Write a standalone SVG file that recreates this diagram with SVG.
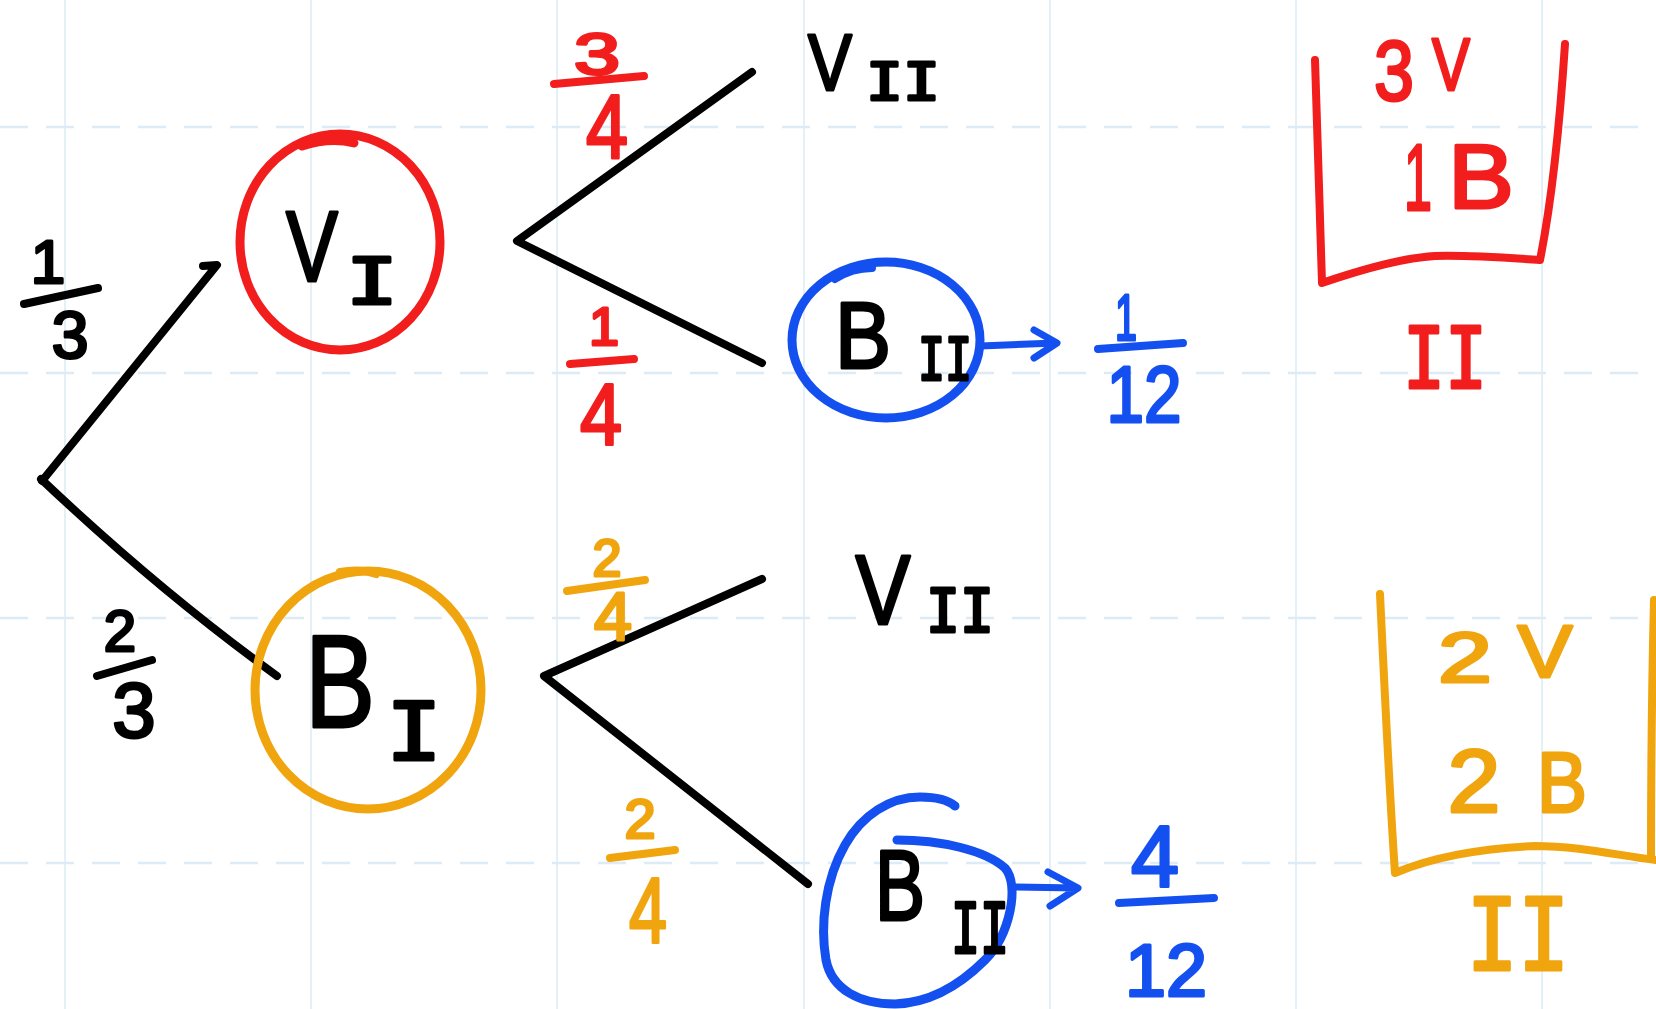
<svg xmlns="http://www.w3.org/2000/svg" width="1656" height="1009" viewBox="0 0 1656 1009">
<style>
.bg{fill:#ffffff}
.gv{stroke:#e3f0f8;stroke-width:2}
.gh{stroke:#dcebf5;stroke-width:2.5;stroke-dasharray:28 18}
.ink{fill:none;stroke-linecap:round;stroke-linejoin:round}
.k{stroke:#000000}
.r{stroke:#f21d1d}
.b{stroke:#1450f0}
.o{stroke:#f0a50f}
.t{font-family:"Liberation Sans",Arial,sans-serif;text-anchor:middle;stroke-linejoin:round;stroke-linecap:round}
.n{font-family:"DejaVu Sans Mono","Liberation Mono",monospace;text-anchor:middle;stroke-linejoin:round}
.tk{fill:#000;stroke:#000;stroke-width:3}
.tr{fill:#f21d1d;stroke:#f21d1d;stroke-width:3}
.tb{fill:#1450f0;stroke:#1450f0;stroke-width:3}
.to{fill:#f0a50f;stroke:#f0a50f;stroke-width:3}
</style>
<rect class="bg" x="0" y="0" width="1656" height="1009"/>
<g id="grid">
<line class="gv" x1="65" y1="0" x2="65" y2="1009"/>
<line class="gv" x1="311" y1="0" x2="311" y2="1009"/>
<line class="gv" x1="557" y1="0" x2="557" y2="1009"/>
<line class="gv" x1="804" y1="0" x2="804" y2="1009"/>
<line class="gv" x1="1050" y1="0" x2="1050" y2="1009"/>
<line class="gv" x1="1296" y1="0" x2="1296" y2="1009"/>
<line class="gv" x1="1542" y1="0" x2="1542" y2="1009"/>
<line class="gh" x1="0" y1="127" x2="1656" y2="127"/>
<line class="gh" x1="0" y1="373" x2="1656" y2="373"/>
<line class="gh" x1="0" y1="618" x2="1656" y2="618"/>
<line class="gh" x1="0" y1="863" x2="1656" y2="863"/>
</g>
<g id="connectors">
<path class="ink k" stroke-width="8" d="M42,481 L217,265 L203,266"/>
<path class="ink k" stroke-width="8" d="M41,479 Q150,582 258,662 L277,676"/>
<path class="ink k" stroke-width="8" d="M752,72 L517,241 L762,363"/>
<path class="ink k" stroke-width="8" d="M762,579 L544,676 L808,884"/>
<path class="ink b" stroke-width="7" d="M980,346 L1056,343 M1034,330 L1057,343 L1034,358"/>
<path class="ink b" stroke-width="7" d="M1013,887 L1077,888 M1048,872 L1078,888 L1050,906"/>
</g>
<g id="label-1-3">
<text class="t tk" x="48" y="283" font-size="62">1</text>
<line class="ink k" stroke-width="8" x1="24" y1="304" x2="98" y2="288"/>
<text class="t tk" x="70" y="358" font-size="66">3</text>
</g>
<g id="label-2-3">
<text class="t tk" x="120" y="651" font-size="58">2</text>
<line class="ink k" stroke-width="8" x1="97" y1="676" x2="152" y2="660"/>
<text class="t tk" x="134" y="737" font-size="78">3</text>
</g>
<g id="node-VI">
<ellipse class="ink r" stroke-width="9" cx="340" cy="242" rx="100" ry="108"/>
<path class="ink r" stroke-width="9" d="M302,146 Q330,137 354,143"/>
<text class="t tk" x="312" y="281" font-size="100" textLength="52" lengthAdjust="spacingAndGlyphs">V</text>
<text class="n tk" x="372" y="304" font-size="64" textLength="52" lengthAdjust="spacingAndGlyphs">I</text>
</g>
<g id="label-3-4">
<text class="t tr" x="597" y="74" font-size="58" textLength="46" lengthAdjust="spacingAndGlyphs">3</text>
<line class="ink r" stroke-width="8" x1="554" y1="84" x2="644" y2="76"/>
<text class="t tr" x="607" y="158" font-size="90" textLength="42" lengthAdjust="spacingAndGlyphs">4</text>
</g>
<g id="label-1-4">
<text class="t tr" x="604" y="345" font-size="54">1</text>
<line class="ink r" stroke-width="8" x1="570" y1="364" x2="634" y2="359"/>
<text class="t tr" x="601" y="445" font-size="88" textLength="42" lengthAdjust="spacingAndGlyphs">4</text>
</g>
<g id="node-VII-top">
<text class="t tk" x="830" y="90" font-size="80" textLength="44" lengthAdjust="spacingAndGlyphs">V</text>
<text class="n tk" x="903" y="100" font-size="52" textLength="74" lengthAdjust="spacingAndGlyphs">II</text>
</g>
<g id="node-BII-top">
<ellipse class="ink b" stroke-width="9" cx="886" cy="340" rx="94" ry="78"/>
<path class="ink b" stroke-width="8" d="M835,279 Q852,268 872,268"/>
<text class="t tk" x="863" y="368" font-size="94" textLength="56" lengthAdjust="spacingAndGlyphs">B</text>
<text class="n tk" x="945" y="380" font-size="58" textLength="54" lengthAdjust="spacingAndGlyphs">II</text>
</g>
<g id="label-1-12">
<text class="t tb" x="1126" y="340" font-size="64" textLength="22" lengthAdjust="spacingAndGlyphs">1</text>
<line class="ink b" stroke-width="8" x1="1098" y1="349" x2="1183" y2="343"/>
<text class="t tb" x="1144" y="422" font-size="80" textLength="75" lengthAdjust="spacingAndGlyphs">12</text>
</g>
<g id="node-BI">
<ellipse class="ink o" stroke-width="9" cx="368" cy="690" rx="113" ry="119"/>
<path class="ink o" stroke-width="8" d="M340,572 Q360,568 376,574"/>
<text class="t tk" x="340" y="727" font-size="132" textLength="70" lengthAdjust="spacingAndGlyphs">B</text>
<text class="n tk" x="414" y="760" font-size="80" textLength="56" lengthAdjust="spacingAndGlyphs">I</text>
</g>
<g id="label-2-4-top">
<text class="t to" x="607" y="576" font-size="52">2</text>
<line class="ink o" stroke-width="8" x1="567" y1="591" x2="645" y2="580"/>
<text class="t to" x="613" y="640" font-size="68" textLength="38" lengthAdjust="spacingAndGlyphs">4</text>
</g>
<g id="label-2-4-bottom">
<text class="t to" x="640" y="838" font-size="56">2</text>
<line class="ink o" stroke-width="8" x1="610" y1="858" x2="675" y2="850"/>
<text class="t to" x="648" y="942" font-size="92" textLength="38" lengthAdjust="spacingAndGlyphs">4</text>
</g>
<g id="node-VII-bottom">
<text class="t tk" x="883" y="624" font-size="98" textLength="55" lengthAdjust="spacingAndGlyphs">V</text>
<text class="n tk" x="960" y="632" font-size="60" textLength="68" lengthAdjust="spacingAndGlyphs">II</text>
</g>
<g id="node-BII-bottom">
<path class="ink b" stroke-width="9" d="M897,840 C940,840 985,850 1005,868 C1020,885 1010,935 985,960 C960,985 930,1003 895,1004 C860,1004 832,990 826,960 C820,925 825,880 845,845 C862,815 890,797 920,797 C935,797 948,800 955,806"/>
<text class="t tk" x="900" y="920" font-size="100" textLength="50" lengthAdjust="spacingAndGlyphs">B</text>
<text class="n tk" x="980" y="953" font-size="70" textLength="58" lengthAdjust="spacingAndGlyphs">II</text>
</g>
<g id="label-4-12">
<text class="t tb" x="1155" y="887" font-size="88" textLength="48" lengthAdjust="spacingAndGlyphs">4</text>
<line class="ink b" stroke-width="8" x1="1119" y1="903" x2="1214" y2="898"/>
<text class="t tb" x="1166" y="996" font-size="74" textLength="82" lengthAdjust="spacingAndGlyphs">12</text>
</g>
<g id="urn-II-red">
<path class="ink r" stroke-width="8" d="M1315,60 C1317,120 1320,220 1322,283 C1360,270 1400,258 1435,256 C1470,255 1510,258 1540,260 C1552,200 1560,120 1565,44"/>
<text class="t tr" x="1394" y="100" font-size="86" textLength="40" lengthAdjust="spacingAndGlyphs">3</text>
<text class="t tr" x="1451" y="90" font-size="74" textLength="38" lengthAdjust="spacingAndGlyphs">V</text>
<text class="t tr" x="1418" y="210" font-size="95" textLength="28" lengthAdjust="spacingAndGlyphs">1</text>
<text class="t tr" x="1481" y="208" font-size="90" textLength="66" lengthAdjust="spacingAndGlyphs">B</text>
<text class="n tr" x="1445" y="388" font-size="86" textLength="84" lengthAdjust="spacingAndGlyphs">II</text>
</g>
<g id="urn-II-orange">
<path class="ink o" stroke-width="8" d="M1380,594 C1385,700 1390,800 1395,873 C1430,858 1480,848 1535,846 C1580,846 1620,856 1656,860 M1651,858 C1651,760 1652,680 1654,600"/>
<text class="t to" x="1465" y="682" font-size="70" textLength="54" lengthAdjust="spacingAndGlyphs">2</text>
<text class="t to" x="1545" y="677" font-size="75" textLength="55" lengthAdjust="spacingAndGlyphs">V</text>
<text class="t to" x="1474" y="812" font-size="89" textLength="53" lengthAdjust="spacingAndGlyphs">2</text>
<text class="t to" x="1562" y="812" font-size="86" textLength="50" lengthAdjust="spacingAndGlyphs">B</text>
<text class="n to" x="1518" y="970" font-size="99" textLength="103" lengthAdjust="spacingAndGlyphs">II</text>
</g>
</svg>
